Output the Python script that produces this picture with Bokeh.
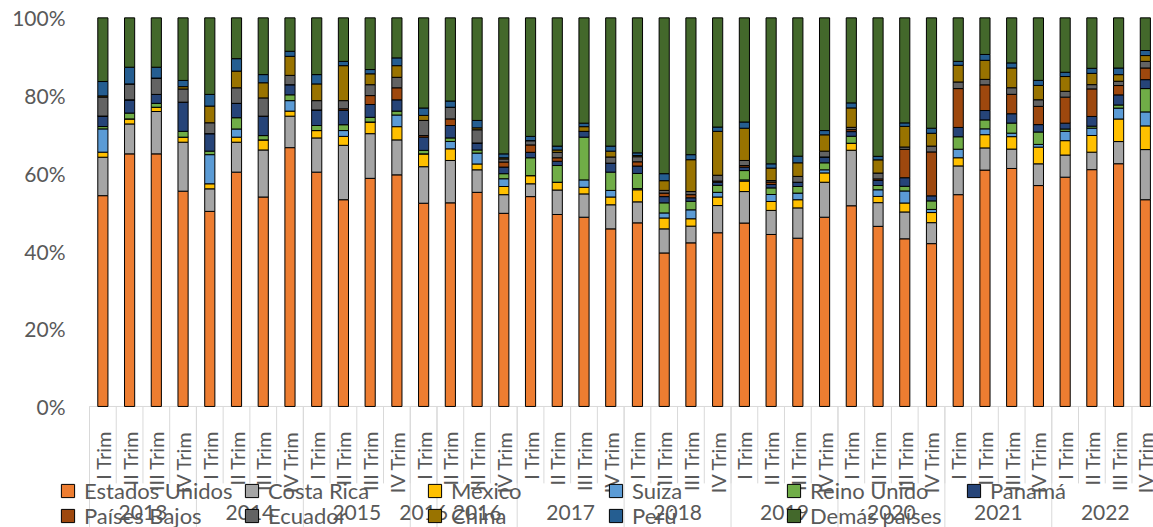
import math
from bokeh.plotting import figure
from bokeh.models import ColumnDataSource, FixedTicker, Range1d, Legend, LegendItem
from bokeh.core.properties import value
from bokeh.embed import file_html
from bokeh.resources import INLINE

# ---------------- data ----------------
quarter_labels = ["I Trim", "II Trim", "III Trim", "IV Trim"] * 10
year_labels = ["2013", "2014", "2015", "2016", "2016", "2017", "2018", "2019", "2020", "2021", "2022"]
year_sizes = [4, 4, 4, 1, 3, 4, 4, 4, 4, 4, 4]

series_names = ["Estados Unidos", "Costa Rica", "México", "Suiza", "Reino Unido", "Panamá",
                "Países Bajos", "Ecuador", "China", "Perú", "Demás países"]
series_colors = ["#ED7D31", "#A5A5A5", "#FFC000", "#5B9BD5", "#70AD47", "#264478",
                 "#9E480E", "#636363", "#997300", "#255E91", "#43682B"]

estados_unidos = [54.3, 65.0, 65.0, 55.4, 50.2, 60.3, 53.9, 66.6, 60.3, 53.2,
                  58.7, 59.6, 52.3, 52.4, 55.1, 49.7, 54.0, 49.4, 48.7, 45.7,
                  47.2, 39.5, 42.1, 44.7, 47.2, 44.3, 43.3, 48.7, 51.7, 46.3,
                  43.1, 41.9, 54.5, 60.7, 61.3, 56.9, 59.0, 61.0, 62.4, 53.2]
costa_rica = [9.9, 7.7, 10.9, 12.6, 5.8, 7.7, 12.1, 8.1, 8.8, 14.0,
              11.5, 9.0, 9.4, 10.9, 5.8, 4.8, 3.3, 6.3, 6.0, 6.2,
              5.4, 6.2, 4.3, 7.0, 8.1, 6.2, 7.8, 9.0, 14.3, 6.1,
              6.9, 5.4, 7.4, 5.7, 5.0, 5.6, 5.7, 4.5, 5.7, 12.9]
mexico = [1.3, 1.3, 1.1, 1.3, 1.3, 1.3, 2.6, 1.3, 1.9, 2.3,
          3.0, 3.4, 3.3, 3.0, 1.5, 2.1, 2.1, 2.0, 1.7, 2.0,
          3.1, 2.8, 1.9, 2.2, 2.7, 2.3, 2.1, 2.4, 1.8, 1.6,
          2.3, 2.6, 2.1, 3.4, 3.2, 4.3, 3.7, 4.3, 5.8, 6.1]
suiza = [6.0, 0.0, 0.0, 0.0, 7.5, 2.1, 0.0, 2.7, 0.0, 1.5,
         0.0, 3.0, 0.0, 1.9, 2.8, 2.0, 0.0, 0.0, 1.9, 1.7,
         0.3, 1.3, 2.3, 1.2, 0.3, 1.8, 1.7, 0.8, 0.0, 1.7,
         3.1, 0.8, 2.2, 1.5, 0.9, 0.7, 2.4, 1.9, 2.8, 3.6]
reino_unido = [0.6, 1.5, 1.0, 1.5, 0.9, 2.9, 1.1, 1.5, 1.3, 1.5,
               1.2, 1.0, 0.9, 0.9, 0.8, 1.3, 4.6, 4.3, 11.0, 4.7,
               3.9, 2.6, 2.2, 1.8, 2.4, 1.7, 1.7, 1.8, 1.8, 1.1,
               1.2, 2.2, 3.2, 2.3, 2.6, 3.2, 0.6, 0.5, 0.8, 6.0]
panama = [2.7, 3.4, 2.3, 7.5, 4.5, 3.7, 5.0, 2.6, 4.0, 3.7,
          3.3, 2.9, 3.4, 3.2, 1.8, 1.7, 1.4, 1.1, 1.5, 2.3,
          1.9, 1.6, 0.9, 0.8, 0.9, 0.9, 1.1, 1.5, 1.2, 1.3,
          2.2, 1.3, 2.4, 2.4, 2.4, 1.9, 1.5, 2.5, 2.6, 2.3]
paises_bajos = [0.0, 0.0, 0.0, 0.0, 0.0, 0.0, 0.0, 0.0, 0.0, 0.4,
                2.3, 3.1, 0.4, 1.7, 0.0, 1.3, 1.9, 0.9, 0.0, 0.0,
                1.1, 0.9, 0.8, 0.3, 0.4, 0.6, 0.0, 0.0, 0.5, 0.4,
                7.3, 11.3, 10.0, 6.6, 5.0, 4.7, 6.7, 7.1, 2.4, 3.0]
ecuador = [4.9, 4.1, 4.2, 3.4, 2.8, 4.0, 4.7, 2.4, 2.4, 2.1,
           2.8, 2.7, 3.9, 3.0, 3.4, 0.8, 1.1, 1.4, 0.0, 1.6,
           1.3, 0.7, 0.8, 1.5, 1.3, 0.4, 1.5, 1.5, 0.6, 1.5,
           0.6, 1.5, 1.7, 1.4, 1.7, 1.7, 1.5, 1.1, 1.1, 1.7]
china = [0.3, 0.0, 0.0, 0.6, 4.3, 4.3, 3.9, 4.9, 4.3, 9.0,
         2.8, 3.0, 1.3, 0.0, 0.5, 0.3, 0.0, 0.6, 1.2, 1.5,
         0.3, 2.5, 8.2, 11.3, 8.3, 3.2, 3.5, 4.2, 5.0, 3.4,
         5.3, 3.3, 4.3, 4.9, 5.1, 3.7, 3.8, 2.9, 1.7, 1.5]
peru = [3.7, 4.3, 2.8, 1.6, 3.0, 3.2, 2.1, 1.3, 2.4, 1.1,
        1.1, 2.0, 1.9, 1.6, 1.9, 1.0, 1.1, 1.0, 0.9, 1.3,
        0.7, 1.8, 1.3, 1.1, 1.6, 1.1, 1.7, 1.1, 1.3, 0.9,
        0.9, 1.3, 1.0, 1.5, 1.3, 1.3, 1.1, 1.3, 1.7, 1.3]
demas_paises = [16.4, 12.7, 12.7, 16.1, 19.7, 10.5, 14.6, 8.6, 14.6, 11.2,
                13.3, 10.3, 23.2, 21.4, 26.4, 35.0, 30.5, 33.0, 27.1, 33.0,
                34.7, 40.1, 35.2, 28.1, 26.8, 37.6, 35.6, 29.0, 21.9, 35.6,
                27.0, 28.4, 11.2, 9.4, 11.6, 16.1, 14.0, 13.0, 12.9, 8.4]

series_values = [estados_unidos, costa_rica, mexico, suiza, reino_unido, panama,
                 paises_bajos, ecuador, china, peru, demas_paises]

# ---------------- 100% stacking ----------------
n = len(quarter_labels)
xs = list(range(n))
totals = [sum(s[i] for s in series_values) for i in range(n)]
keys = [f"s{k}" for k in range(len(series_names))]
data = {"x": xs}
for k, s in zip(keys, series_values):
    data[k] = [s[i] / totals[i] * 100.0 for i in range(n)]
src = ColumnDataSource(data)

# ---------------- figure ----------------
TXT = "#595959"
GRID = "#D9D9D9"
FONT = "Lato"
W, H = 1153, 527
LEFT, TOP = 56, 16
PX_PER_CAT = 26.73

x0 = -0.5 - (89 - LEFT) / PX_PER_CAT
x1 = x0 + (W - LEFT) / PX_PER_CAT
p = figure(width=W, height=H, output_backend="svg", toolbar_location=None,
           x_range=Range1d(x0, x1), y_range=Range1d(-31.15, 100.35),
           x_axis_location=None, min_border_left=LEFT, min_border_top=TOP,
           min_border_right=0, min_border_bottom=0)
p.outline_line_color = None
p.xgrid.visible = False
p.ygrid.visible = False
p.background_fill_color = "white"

ax = p.yaxis[0]
ax.ticker = FixedTicker(ticks=[0, 20, 40, 60, 80, 100])
ax.major_label_overrides = {t: f"{t}%" for t in [0, 20, 40, 60, 80, 100]}
ax.axis_line_color = None
ax.major_tick_line_color = None
ax.minor_tick_line_color = None
ax.major_tick_out = 0
ax.major_tick_in = 0
ax.major_label_standoff = -9
ax.major_label_text_font = FONT
ax.major_label_text_font_size = "21px"
ax.major_label_text_color = TXT

# category axis drawn inside the extended frame
q_bottom = -19.8
y_bottom = -31.15
p.segment(x0=[-0.5], y0=[0], x1=[n - 0.5], y1=[0], line_color=GRID, line_width=1)
sep_x = [i - 0.5 for i in range(n + 1)]
p.segment(x0=sep_x, y0=[0] * len(sep_x), x1=sep_x, y1=[q_bottom] * len(sep_x),
          line_color=GRID, line_width=1)
bounds = [-0.5]
for s in year_sizes:
    bounds.append(bounds[-1] + s)
p.segment(x0=bounds, y0=[0] * len(bounds), x1=bounds, y1=[y_bottom] * len(bounds),
          line_color=GRID, line_width=1)

p.text(x=xs, y=[-6.3] * n, text=quarter_labels, angle=math.pi / 2,
       text_align="right", text_baseline="middle", text_font=value(FONT),
       text_font_size="20px", text_color=TXT)
year_centers = [(bounds[i] + bounds[i + 1]) / 2 for i in range(len(year_sizes))]
p.text(x=year_centers, y=[-27.2] * len(year_centers), text=year_labels,
       text_align="center", text_baseline="middle", text_font=value(FONT),
       text_font_size="21px", text_color=TXT)

# bars
p.vbar_stack(keys, x="x", width=0.38, source=src, fill_color=series_colors,
             line_color="black", line_width=1)

# legend: 2 rows x 6 columns, one Legend per entry for exact placement
leg_r = []
for c in series_colors:
    r = p.scatter(x="x", y=0, source=src, marker="square", size=13, fill_color=c,
                  line_color="black", line_width=1)
    r.visible = False
    leg_r.append(r)

col_marker_left = [61, 245, 428, 609, 787, 967]   # screen px of the swatch
row_bottom = [20, -5]                               # px from frame bottom
for i, name in enumerate(series_names):
    row, col = divmod(i, 6)
    lg = Legend(items=[LegendItem(label=name, renderers=[leg_r[i]])],
                location=(col_marker_left[col] - 10 - LEFT, row_bottom[row]),
                orientation="horizontal",
                glyph_width=33, glyph_height=33, label_height=33, label_width=20,
                label_standoff=0, spacing=0, padding=0, margin=0,
                border_line_color=None, background_fill_alpha=0,
                label_text_font=FONT, label_text_font_size="22px",
                label_text_color=TXT)
    p.add_layout(lg, "center")

open("out.html", "w").write(file_html(p, INLINE))
